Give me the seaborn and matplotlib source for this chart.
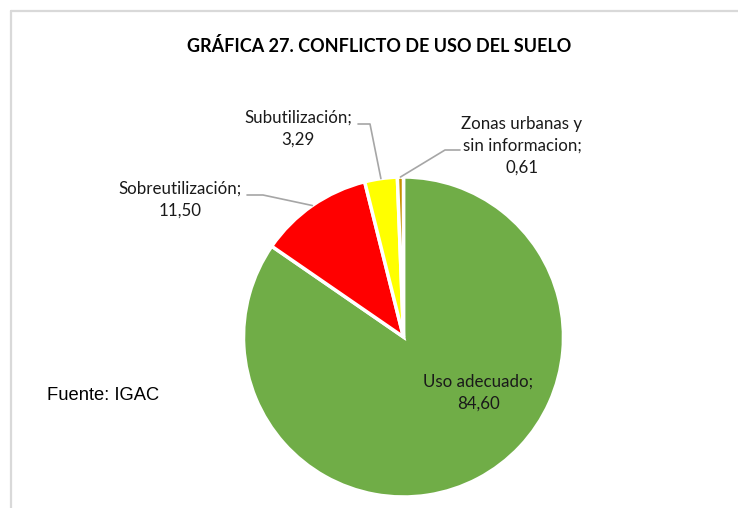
import matplotlib
matplotlib.use("Agg")
import matplotlib.pyplot as plt
from matplotlib.lines import Line2D
import seaborn as sns
import numpy as np

# Conflicto de uso del suelo (porcentaje del área)
categorias = ["Uso adecuado", "Sobreutilización", "Subutilización",
              "Zonas urbanas y\nsin informacion"]
valores = [84.60, 11.50, 3.29, 0.61]
colores = ["#70AD47", "#FF0000", "#FFFF00", "#C59100"]

titulo = "GRÁFICA 27. CONFLICTO DE USO DEL SUELO"
fuente = "Fuente: IGAC"

sns.set_theme(style="white")
plt.rcParams["font.family"] = ["Lato", "DejaVu Sans"]

W, H = 738, 508
fig = plt.figure(figsize=(W / 100, H / 100), dpi=100)
ax = fig.add_axes([0, 0, 1, 1])

cx, cy, r = 403.5, H - 337, 160
wedges, _ = ax.pie(valores, colors=colores, startangle=90, counterclock=False,
                   center=(cx, cy), radius=r,
                   wedgeprops=dict(edgecolor="white", linewidth=2.5))
ax.set_xlim(0, W)
ax.set_ylim(0, H)
ax.set_aspect("equal")
ax.axis("off")

def fmt(v):
    return f"{v:.2f}".replace(".", ",")

def mid_point(w, frac=1.0):
    ang = np.deg2rad((w.theta1 + w.theta2) / 2)
    return cx + r * frac * np.cos(ang), cy + r * frac * np.sin(ang)

lab_kw = dict(fontsize=12.2, color="#1a1a1a", ha="center", va="center",
              linespacing=1.45)
line_kw = dict(color="#A6A6A6", lw=1.2)

# Uso adecuado: label inside the slice
ax.text(478, H - 393, f"{categorias[0]};\n{fmt(valores[0])}", **lab_kw)

# Outer labels with leader lines (text position, elbow, end of horizontal run)
externos = [
    (1, (180, H - 200), [(263, H - 195), (247, H - 195)]),
    (2, (298, H - 129), [(370, H - 124), (358, H - 124)]),
    (3, (522, H - 146), [(445, H - 150), (460, H - 150)]),
]
for i, pos, codo in externos:
    px, py = mid_point(wedges[i])
    xs = [px] + [c[0] for c in codo]
    ys = [py] + [c[1] for c in codo]
    ax.add_line(Line2D(xs, ys, **line_kw))
    ax.text(pos[0], pos[1], f"{categorias[i]};\n{fmt(valores[i])}", **lab_kw)

ax.text(379, H - 46, titulo, fontsize=13, fontweight="bold",
        color="#000000", ha="center", va="center")
ax.text(47, H - 396, fuente, fontsize=13.2, family="Liberation Sans",
        color="#000000", ha="left", va="center")

# Chart border
ax.add_line(Line2D([11, W], [H - 11, H - 11], color="#D9D9D9", lw=1.6))
ax.add_line(Line2D([11, 11], [H - 11, 0], color="#D9D9D9", lw=1.6))

fig.savefig("out.png", dpi=100, facecolor="white")
